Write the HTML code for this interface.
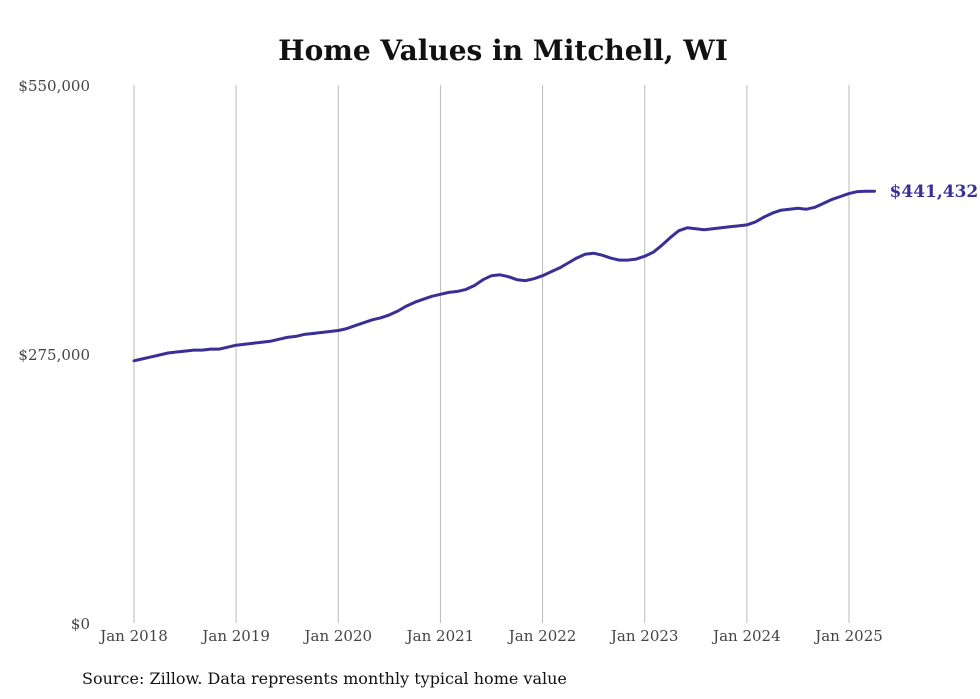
<!DOCTYPE html>
<html><head><meta charset="utf-8"><style>
body{margin:0;background:#fff;}
svg{display:block;font-family:"DejaVu Serif","Liberation Serif",serif;}
</style></head><body>
<svg id="chart" width="980" height="699">
<text x="503" y="60" text-anchor="middle" font-size="28" font-weight="bold" fill="#111">Home Values in Mitchell, WI</text>
<g id="grid"></g><g id="yaxis"></g><g id="xaxis"></g><g id="series"></g>
<text x="82" y="684" font-size="16" fill="#111">Source: Zillow. Data represents monthly typical home value</text>
</svg>
<script>
const yearLabels=["Jan 2018","Jan 2019","Jan 2020","Jan 2021","Jan 2022","Jan 2023","Jan 2024","Jan 2025"];
const yTicks=[0,275000,550000];
const yTickLabels=["$0","$275,000","$550,000"];
const values=[268000,270000,272000,274000,276000,277000,278000,279000,279000,280000,280000,282000,
284000,285000,286000,287000,288000,290000,292000,293000,295000,296000,297000,298000,
299000,301000,304000,307000,310000,312000,315000,319000,324000,328000,331000,334000,
336000,338000,339000,341000,345000,351000,355000,356000,354000,351000,350000,352000,
355000,359000,363000,368000,373000,377000,378000,376000,373000,371000,371000,372000,
375000,379000,386000,394000,401000,404000,403000,402000,403000,404000,405000,406000,
407000,410000,415000,419000,422000,423000,424000,423000,425000,429000,433000,436000,
439000,441000,441400,441432];
const lastLabel="$441,432";
const NS="http://www.w3.org/2000/svg";
const x0=134,pxPerMonth=(849-134)/84,yTop=85,yBot=623,yMax=550000;
const xS=i=>x0+i*pxPerMonth;
const yS=v=>yBot-(v/yMax)*(yBot-yTop);
function mk(tag,attrs,parent){const e=document.createElementNS(NS,tag);for(const k in attrs)e.setAttribute(k,attrs[k]);parent.appendChild(e);return e;}
const grid=document.getElementById('grid'),xa=document.getElementById('xaxis'),ya=document.getElementById('yaxis'),ser=document.getElementById('series');
yearLabels.forEach((lab,i)=>{
 const x=xS(i*12);
 const l=mk('line',{x1:x,x2:x,y1:yTop,y2:yBot,stroke:'#bbb','stroke-width':1},grid);
 
 
 const t=mk('text',{x:x,y:641,'text-anchor':'middle','font-size':15,fill:'#444'},xa);
 t.textContent=lab;
 
 
});
yTicks.forEach((v,i)=>{
 const t=mk('text',{x:90,y:yS(v)+6,'text-anchor':'end','font-size':15,fill:'#444'},ya);
 t.textContent=yTickLabels[i];
 
 
});
const d=values.map((v,i)=>(i?'L':'M')+xS(i).toFixed(1)+','+yS(v).toFixed(1)).join(' ');
const p=mk('path',{d:d,fill:'none',stroke:'#3a2f96','stroke-width':3,'stroke-linejoin':'round','stroke-linecap':'round'},ser);


const li=values.length-1;
const lt=mk('text',{x:xS(li)+15,y:yS(values[li])+6,'font-size':17,'font-weight':'bold',fill:'#3a2f96'},ser);
lt.textContent=lastLabel;


</script>
</body></html>
